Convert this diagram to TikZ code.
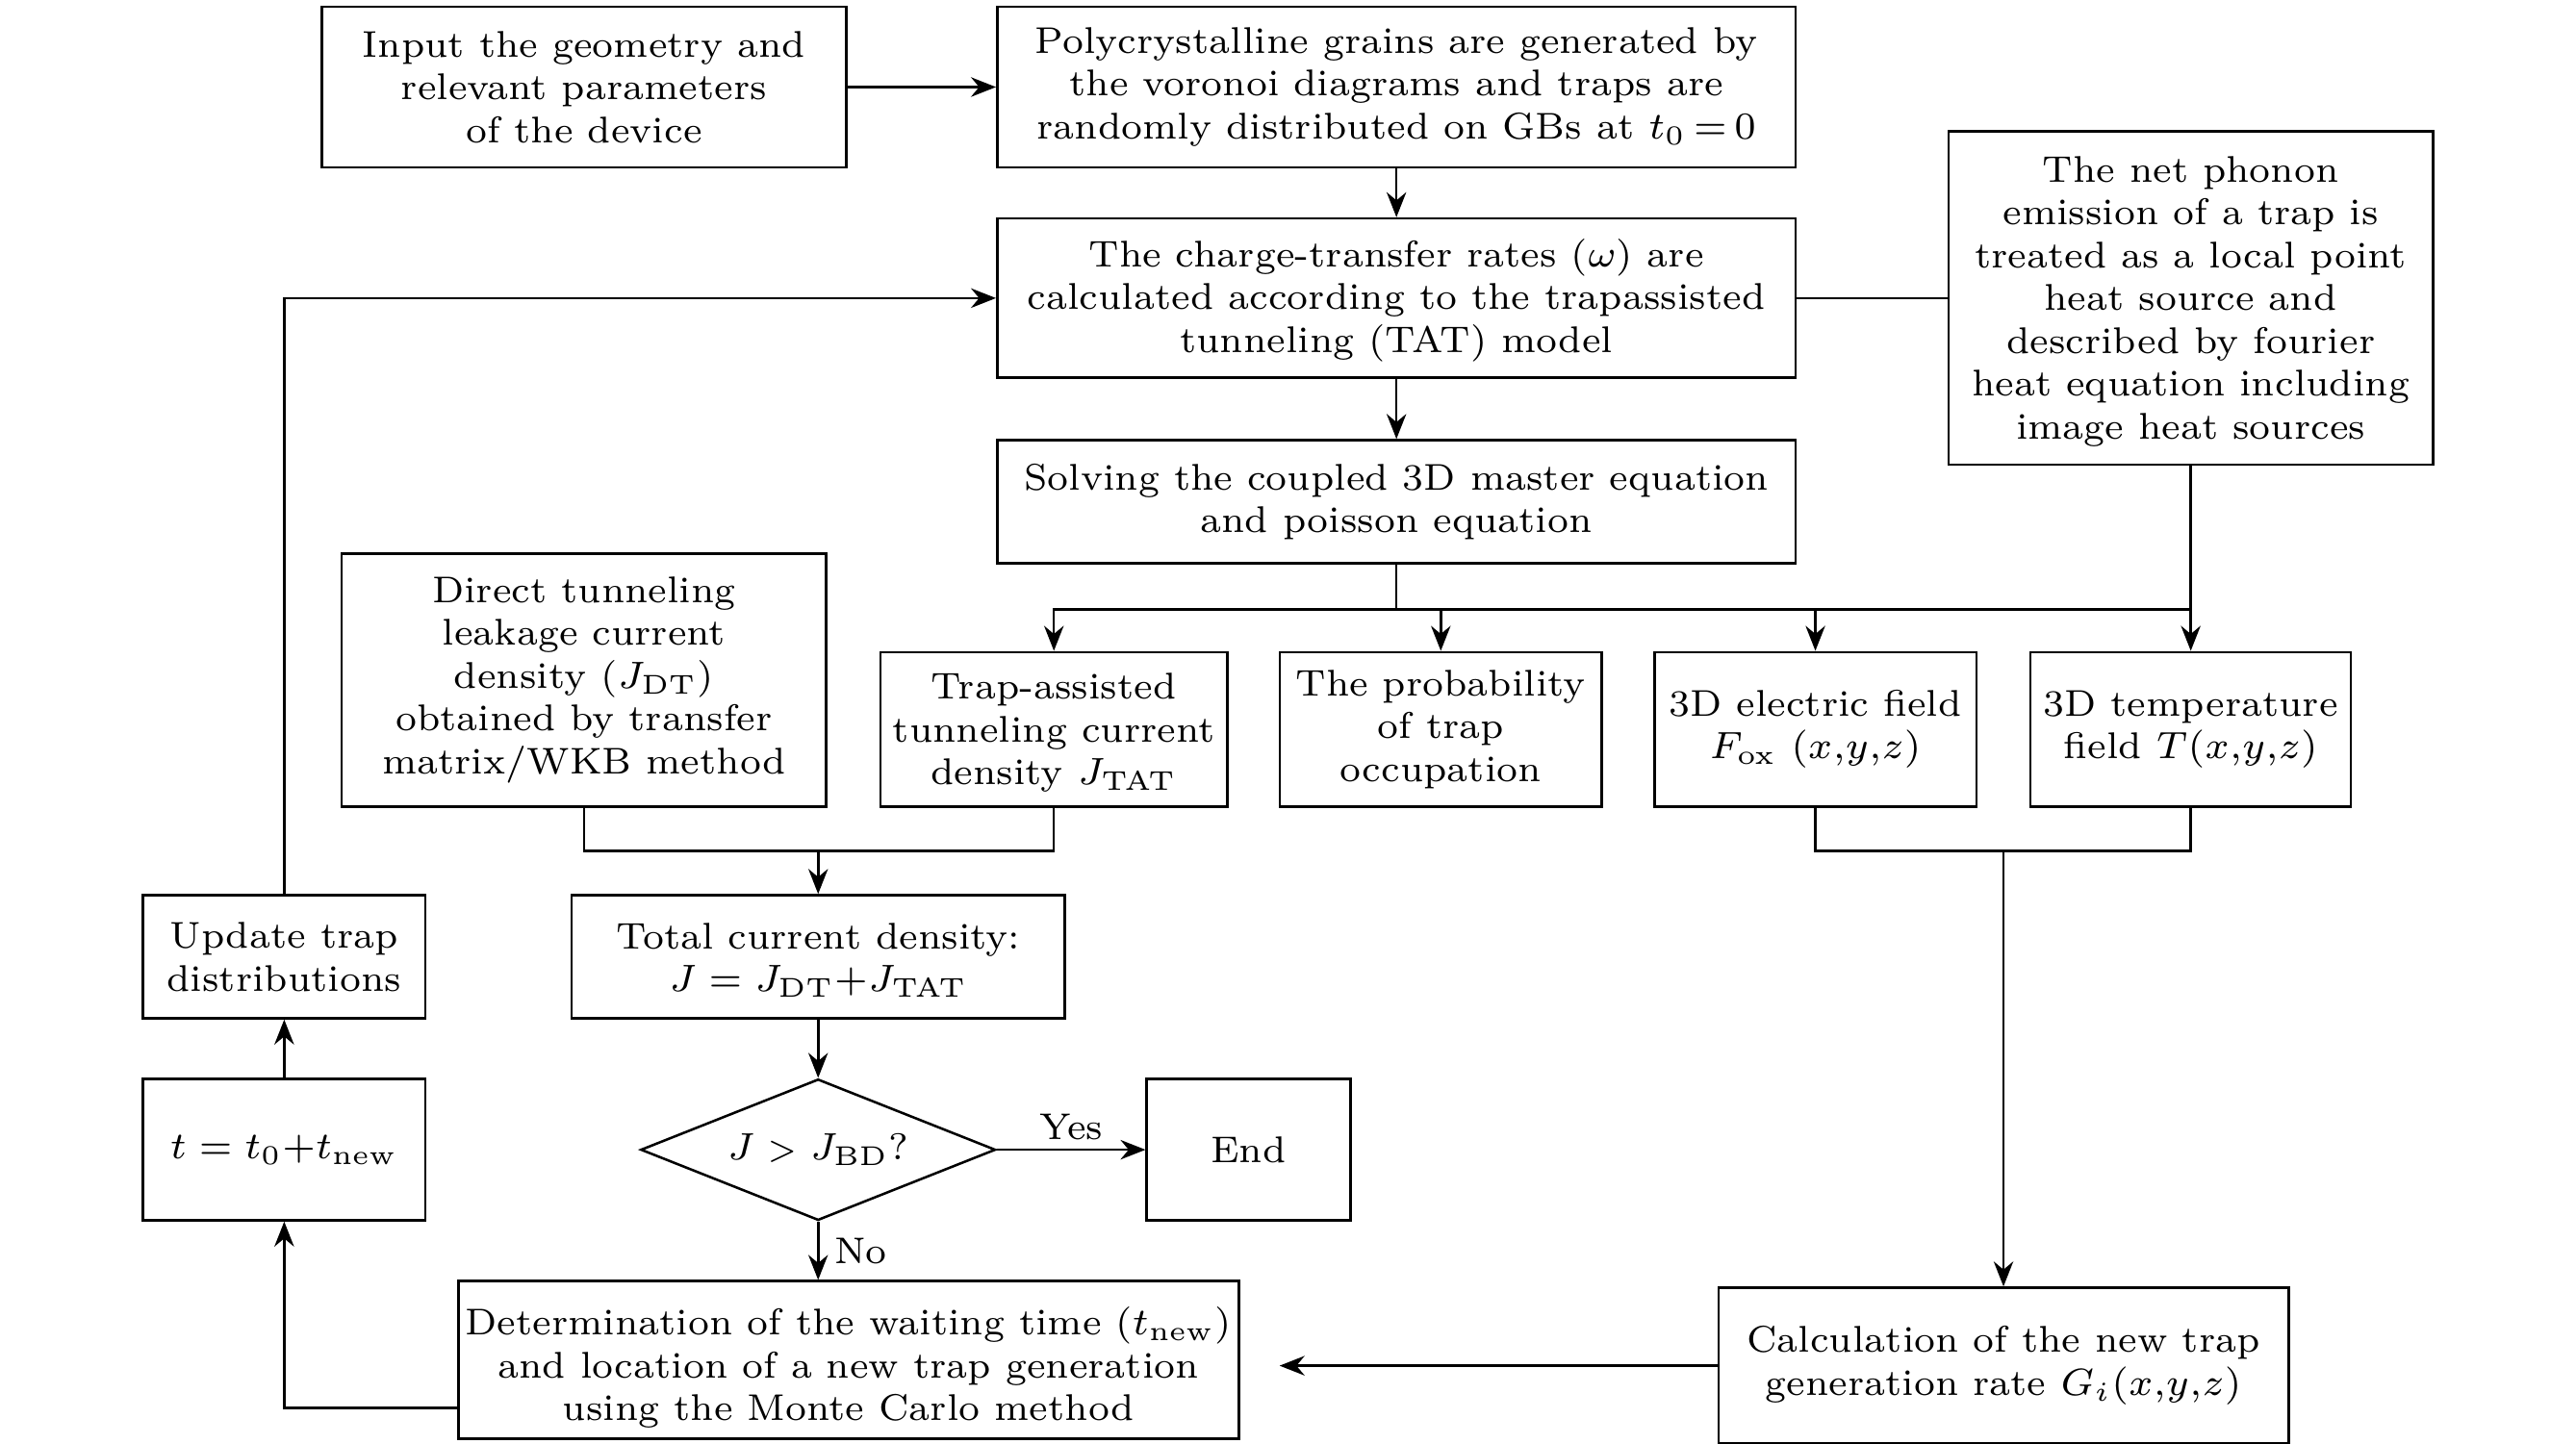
\documentclass[tikz,border=0pt]{standalone}
\usetikzlibrary{arrows.meta,shapes.geometric}
\newcommand\un{0.3026pt}
\newcommand\fs{\fontsize{6.85}{7.9}\selectfont}
\begin{document}
\begin{tikzpicture}[x=0.3026pt,y=-0.3026pt,
  box/.style 2 args={draw, line width=0.45pt, minimum width=#1*\un, minimum height=#2*\un, inner sep=0pt, align=center, font=\fs},
  arr/.style={-{Stealth[length=4.6pt,width=3.6pt]}, line width=0.45pt},
  ln/.style={line width=0.45pt},
  lbl/.style={font=\fs, inner sep=1.5pt}]
\fill[white] (0,0) rectangle (1568,879);
\useasboundingbox (0,0) rectangle (1568,879);

\node[box={319}{98}] (inp) at (355.5,53) {Input the geometry and\\relevant parameters\\of the device};
\node[box={486}{98}] (poly) at (850,53) {Polycrystalline grains are generated by\\the voronoi diagrams and traps are\\randomly distributed on GBs at $t_0\,{=}\,0$};
\node[box={486}{97}] (charge) at (850,181.5) {\rule{0pt}{6pt}The charge-transfer rates ($\omega$) are\\calculated according to the trapassisted\\tunneling (TAT) model};
\node[box={295}{203}] (phon) at (1333.5,181.5) {\rule{0pt}{6pt}The net phonon\\emission of a trap is\\treated as a local point\\heat source and\\described by fourier\\heat equation including\\image heat sources};
\node[box={486}{75}] (solve) at (850,305.5) {Solving the coupled 3D master equation\\and poisson equation};
\node[box={295}{154}] (dir) at (355.5,414) {Direct tunneling\\leakage current\\density ($J_{\mathrm{DT}}$)\\obtained by transfer\\matrix/WKB method};
\node[box={211}{94}] (trap) at (641.5,444) {\rule{0pt}{6pt}Trap-assisted\\tunneling current\\density $J_{\mathrm{TAT}}$};
\node[box={196}{94}] (prob) at (877,444) {The probability\\of trap\\occupation};
\node[box={196}{94}] (elec) at (1105,444) {3D electric field\\$F_{\mathrm{ox}}$ $(x{,}y{,}z)$};
\node[box={195}{94}] (temp) at (1333.5,444) {3D temperature\\field $T(x{,}y{,}z)$};
\node[box={172}{75}] (upd) at (173,582.5) {Update trap\\distributions};
\node[box={300}{75}] (tot) at (498,582.5) {\rule{0pt}{6pt}Total current density:\\$J=J_{\mathrm{DT}}{+}J_{\mathrm{TAT}}$};
\node[box={172}{86}] (tb) at (173,700) {$t=t_0{+}t_{\mathrm{new}}$};
\node[draw, line width=0.45pt, shape=diamond, aspect=2.5, inner sep=0pt, minimum width=216*\un, minimum height=86*\un, font=\fs] (dia) at (498,700) {$J\;${\fontsize{5.8}{6}\selectfont\textgreater}$\;J_{\mathrm{BD}}$?};
\node[box={124}{86}] (end) at (760,700) {End};
\node[box={475}{96}] (det) at (516.5,828) {\rule{0pt}{8pt}Determination of the waiting time ($t_{\mathrm{new}}$)\\and location of a new trap generation\\using the Monte Carlo method};
\node[box={347}{95}] (calc) at (1219.5,831.5) {Calculation of the new trap\\generation rate $G_i(x{,}y{,}z)$};

\coordinate (b1) at (850,371);
\coordinate (b2) at (498,518);
\coordinate (b3) at (1219.5,518);

\draw[arr] (inp) -- (poly);
\draw[arr] (poly) -- (charge);
\draw[arr] (charge) -- (solve);
\draw[ln] (charge) -- (phon);
\draw[ln] (solve.south) -- (b1);
\draw[arr] (b1) -| (trap.north);
\draw[arr] (b1) -| (prob.north);
\draw[arr] (b1) -| (elec.north);
\draw[ln] (b1) -| (phon.south);
\draw[arr] (phon.south) -- (temp.north);
\draw[ln] (dir.south) |- (b2);
\draw[ln] (trap.south) |- (b2);
\draw[arr] (b2) -- (tot.north);
\draw[arr] (tot) -- (dia);
\draw[arr] (dia) -- node[lbl, above] {Yes} (end);
\draw[arr] (dia.south) -- node[lbl, right, inner xsep=2.8pt] {No} (dia.south |- det.north);
\draw[ln] (elec.south) |- (b3);
\draw[ln] (temp.south) |- (b3);
\draw[arr] (b3) -- (calc.north);
\draw[arr, shorten >=7.3pt] (calc.west) -- (calc.west -| det.east);
\draw[arr] ([yshift=-8.8pt]det.west) -| (tb.south);
\draw[arr] (tb) -- (upd);
\draw[arr] (upd.north) |- (charge.west);
\end{tikzpicture}
\end{document}
